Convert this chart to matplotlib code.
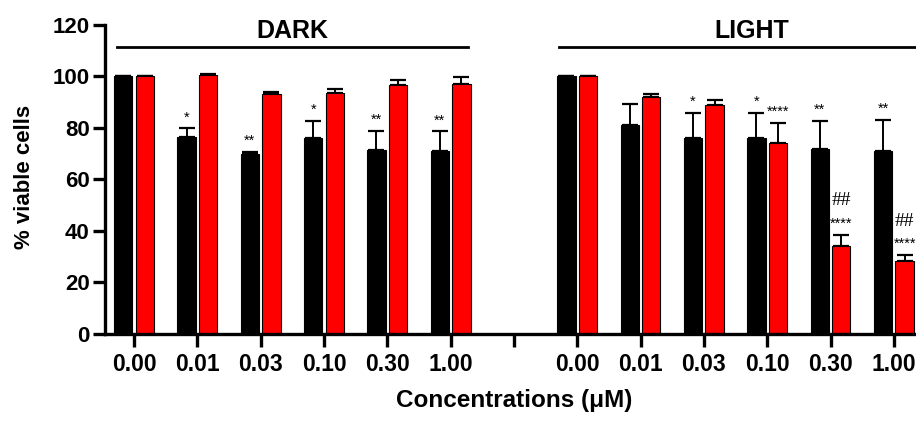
import matplotlib.pyplot as plt
import numpy as np

plt.rcParams['font.family'] = ['Liberation Sans', 'DejaVu Sans']

conc = ['0.00', '0.01', '0.03', '0.10', '0.30', '1.00']
groups = ['DARK', 'LIGHT']

# mean % viable cells and upper SD, black / red series
dark_black = [100, 76.5, 70, 76, 71.5, 71]
dark_black_err = [0, 3.4, 0.8, 6.9, 7.5, 7.7]
dark_red = [100, 100.5, 93, 93.5, 96.5, 97]
dark_red_err = [0, 0.6, 1.0, 1.6, 2.0, 2.9]

light_black = [100, 81, 76, 76, 72, 71]
light_black_err = [0, 8.5, 10, 10, 10.8, 12.2]
light_red = [100, 92, 89, 74, 34, 28.5]
light_red_err = [0, 1.1, 1.7, 8.0, 4.6, 2.2]

# significance marks: (group, concentration index, series, label)
stars = [(0, 1, 'k', '*'), (0, 2, 'k', '**'), (0, 3, 'k', '*'), (0, 4, 'k', '**'), (0, 5, 'k', '**'),
         (1, 2, 'k', '*'), (1, 3, 'k', '*'), (1, 3, 'r', '****'), (1, 4, 'k', '**'), (1, 4, 'r', '****'),
         (1, 5, 'k', '**'), (1, 5, 'r', '****')]
hashes = [(1, 4, 'r', '##'), (1, 5, 'r', '##')]

w = 0.29
off = 0.17
pos = [np.arange(6), np.arange(6) + 7]

fig = plt.figure(figsize=(9.16, 4.21), dpi=100)
ax = fig.add_axes([0.1146, 0.2067, 1 - 0.1146, 0.734])

blacks = [(dark_black, dark_black_err), (light_black, light_black_err)]
reds = [(dark_red, dark_red_err), (light_red, light_red_err)]
tops = {}
for g in range(2):
    x = pos[g]
    for s, (vals, err), col, dx in [('k', blacks[g], 'black', -off), ('r', reds[g], '#ff0000', off)]:
        ax.bar(x + dx, vals, width=w, color=col, edgecolor='black', linewidth=0.8, zorder=2)
        ax.errorbar(x + dx, vals, yerr=[np.zeros(6), err], fmt='none', ecolor='black',
                    elinewidth=1.4, capsize=6, capthick=1.6, zorder=1)
        for i in range(6):
            tops[(g, i, s)] = (x[i] + dx, vals[i] + err[i])

for g, i, s, lab in stars:
    xx, yy = tops[(g, i, s)]
    ax.annotate(lab, (xx, yy), xytext=(0, 5), textcoords='offset points',
                ha='center', va='baseline', fontsize=10.5)
for g, i, s, lab in hashes:
    xx, yy = tops[(g, i, s)]
    ax.annotate(lab, (xx, yy), xytext=(0, 21), textcoords='offset points',
                ha='center', va='baseline', fontsize=14, family='Liberation Serif')

# group header lines
line_y = 111.4
spans = [(-0.27, 5.28), (6.72, 12.8)]
for g in range(2):
    a, b = spans[g]
    ax.plot([a, b], [line_y, line_y], color='black', lw=2, clip_on=False)
    ax.text((a + b) / 2, line_y + 3.6, groups[g], ha='center', va='baseline',
            fontsize=18, fontweight='bold')

ticks = list(pos[0]) + [6] + list(pos[1])
ax.set_xticks(ticks)
ax.set_xticklabels(conc + [''] + conc, fontsize=16.5, fontweight='bold')
ax.set_xlim(-0.458, 12.35)
ax.set_ylim(0, 120)
ax.set_yticks(range(0, 121, 20))
ax.tick_params(axis='y', labelsize=16, width=2.4, length=9, pad=2)
ax.tick_params(axis='x', width=2.4, length=9, pad=5)
for lab in ax.get_yticklabels():
    lab.set_fontweight('bold')

for sp in ['top', 'right']:
    ax.spines[sp].set_visible(False)
ax.spines['left'].set_linewidth(2.4)
ax.spines['bottom'].set_linewidth(2.4)

fig.text(25 / 916, 1 - 177 / 421, '% viable cells', rotation=90, ha='center', va='center',
         fontsize=16, fontweight='bold')
fig.text(514 / 916, 1 - 401 / 421, 'Concentrations (μM)', ha='center', va='center',
         fontsize=17.5, fontweight='bold')

fig.savefig('out.png', dpi=100)
